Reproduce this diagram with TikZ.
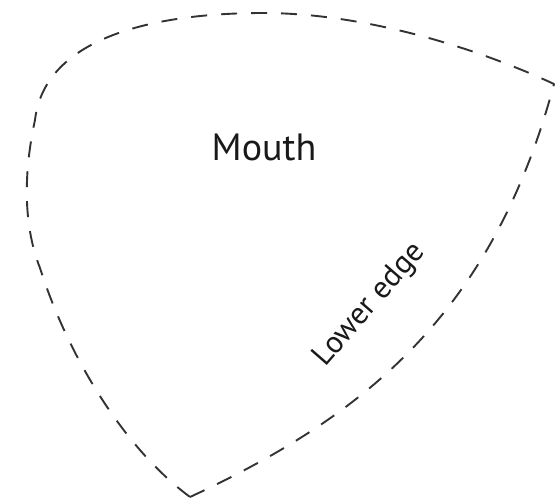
\documentclass[tikz,border=0pt]{standalone}
\usepackage{fontspec}
\setmainfont{PT Sans}
\definecolor{inkgray}{HTML}{333333}
\begin{document}
\begin{tikzpicture}[x=1pt,y=-1pt,
  outline/.style={draw=inkgray,line width=1.9pt,dash pattern=on 16pt off 14pt,line join=round},
  labeltext/.style={text=black!90,inner sep=0pt}]
\useasboundingbox (0,0) rectangle (557,503);
\coordinate (B) at (190,497);
\coordinate (R) at (554,84);
\coordinate (T) at (263,13);
\coordinate (UL) at (35,120);
\coordinate (ML) at (40,268);
\draw[outline] (B) .. controls (362,417) and (492,316) .. (R)
  .. controls (470,45) and (360,13) .. (T)
  .. controls (160,13) and (45,35) .. (UL)
  .. controls (22,180) and (25,230) .. (ML)
  .. controls (66,350) and (120,445) .. (B);
\node[labeltext,font=\fontsize{38}{40}\selectfont] (mouth) at (264,147) {Mouth};
\node[labeltext,font=\fontsize{31}{34}\selectfont,rotate=49] (lower) at (370,305) {Lower edge};
\end{tikzpicture}
\end{document}
